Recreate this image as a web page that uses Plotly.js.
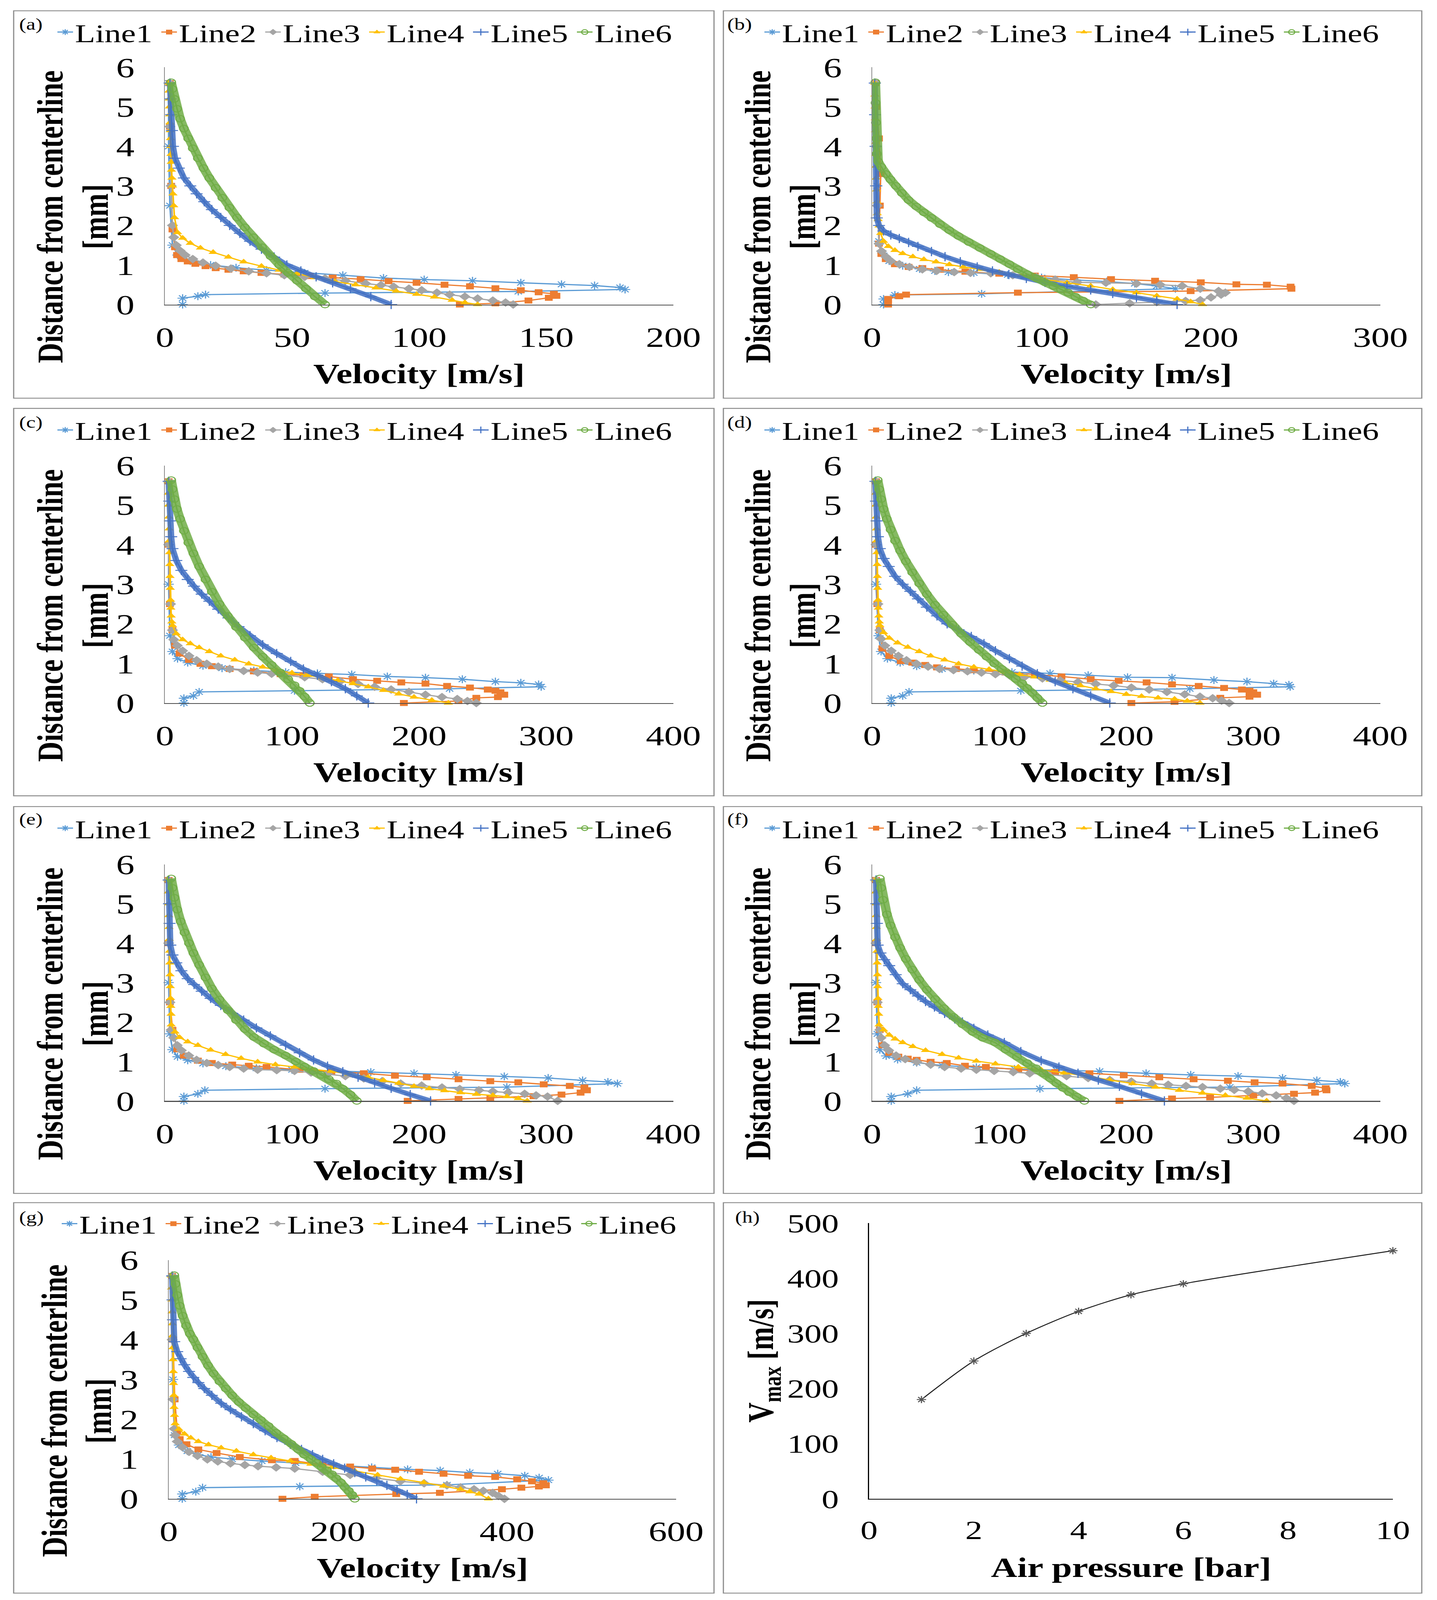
<!DOCTYPE html>
<html><head><meta charset="utf-8">
<script src="https://cdn.plot.ly/plotly-3.0.1.min.js"></script>
<style>html,body{margin:0;padding:0;background:#fff;overflow:hidden}#chart{width:3679px;height:5328px}</style>
</head><body><div id="chart"></div>
<script>
const seriesNames = ['Line1','Line2','Line3','Line4','Line5','Line6'];
const panelLabels = ['(a)','(b)','(c)','(d)','(e)','(f)','(g)','(h)'];

// (a)
const a_v1 = [7,7,13,16,63,139,181,179,169,156,140,121,102,86,70,55,40,28,18,10,5,3,2,1.5,1.5];
const a_d1 = [0,0.16,0.21,0.25,0.29,0.33,0.38,0.43,0.48,0.51,0.55,0.6,0.63,0.67,0.74,0.8,0.87,0.93,1.0,1.1,1.25,1.5,2.5,4,5.6];
const a_v2 = [116,130,143,151,154,153,147,140,130,120,110,99,88,77,66,57,47,38,31,25,20,16,12,9,6.5,4.8,4,3,2.5,2,2];
const a_d2 = [0,0.03,0.1,0.17,0.22,0.27,0.31,0.36,0.41,0.46,0.5,0.55,0.59,0.64,0.68,0.72,0.76,0.8,0.84,0.88,0.92,0.97,1.03,1.09,1.15,1.25,1.45,1.9,3,4.5,5.6];
const a_v3 = [137,134,129,123,118,112,107,101,96,90,85,79,71,63,55,47,40,33,26,20,15,11,8,6,4.5,3.5,3,2.5,2,2];
const a_d3 = [0,0.05,0.1,0.15,0.2,0.25,0.3,0.36,0.4,0.45,0.49,0.53,0.6,0.66,0.7,0.74,0.79,0.84,0.91,0.98,1.06,1.15,1.25,1.36,1.5,1.7,2.0,3,4.5,5.6];
const a_v4 = [1.5,1.6,1.7,1.8,1.9,2,2.1,2.2,2.3,2.4,2.5,2.6,2.8,3,3.2,3.5,3.8,5,7,10,14,19,25,31,38,45,52,59,67,75,83,91,99,106,113,118,123];
const a_d4 = [5.6,5.4,5.2,5.0,4.8,4.6,4.4,4.2,4.0,3.8,3.6,3.4,3.2,3.0,2.8,2.5,2.2,1.82,1.68,1.55,1.43,1.32,1.2,1.08,0.97,0.87,0.78,0.68,0.58,0.5,0.42,0.34,0.26,0.19,0.11,0.05,0];
const a_v5 = [2,2.2,2.5,2.8,3.2,4,5.5,7.5,10,12.5,15.5,18.5,22,25.5,29.5,33.5,38,43,48,53.5,59.5,66,73,81,89];
const a_d5 = [5.6,5.2,4.8,4.4,4.0,3.7,3.45,3.2,3.0,2.8,2.6,2.4,2.2,2.0,1.8,1.6,1.4,1.2,1.0,0.85,0.7,0.55,0.4,0.2,0];
const a_v6 = [2.5,3,3.8,4.8,6,7.5,9.2,11,13,15.2,17.5,20,22.6,25.4,28.4,31.5,34.8,38.2,41.6,45,48.5,52,55.5,59,63];
const a_d6 = [5.62,5.45,5.2,4.95,4.7,4.45,4.2,3.95,3.7,3.45,3.2,2.95,2.7,2.45,2.2,1.95,1.7,1.45,1.22,1.0,0.8,0.6,0.4,0.2,0];

// (b)
const b_v1 = [6.7,6.7,13.4,64.6,179,168,155,138.5,120,100,80,60,45,37,28,18,10,6,4,3,2];
const b_d1 = [0,0.14,0.24,0.27,0.4,0.47,0.53,0.58,0.62,0.68,0.75,0.8,0.82,0.85,0.9,0.98,1.1,1.3,1.6,3,5.6];
const b_v2 = [9.4,9.4,16,20,86,188,247.5,247,233,215,194,167,141,119,96,75,55,40,29.6,21.5,13.4,8,5.4,4,4.5,5,4,2.5,2];
const b_d2 = [0,0.14,0.21,0.25,0.3,0.34,0.4,0.45,0.5,0.51,0.56,0.6,0.64,0.69,0.73,0.78,0.83,0.88,0.92,0.95,1.02,1.15,1.28,1.54,2.5,3.3,4.2,5,5.6];
const b_v3 = [132,152,168,185,193.7,200,206,208.5,204.5,193.7,183,170,156,138,121,108,97,83,70,58,48.4,38,29.6,22,16,11,8,5.5,4,3,2.5,2];
const b_d3 = [0,0.03,0.06,0.09,0.11,0.18,0.25,0.3,0.34,0.4,0.47,0.5,0.53,0.55,0.56,0.63,0.69,0.74,0.79,0.8,0.82,0.85,0.89,0.95,1.02,1.1,1.21,1.35,1.54,2.5,4,5.6];
const b_v4 = [1.5,1.6,1.7,1.8,1.9,2,2.1,2.2,2.4,2.6,2.8,3,3.5,4,5,6.7,9.5,13.4,18,24,30.5,37.7,45.5,53.8,64,75,88,102,115,129,142,156,168,180,188,195];
const b_d4 = [5.6,5.3,5.0,4.7,4.4,4.1,3.8,3.5,3.2,2.9,2.6,2.3,2.15,1.99,1.8,1.6,1.47,1.37,1.29,1.21,1.14,1.08,1.01,0.95,0.89,0.82,0.72,0.63,0.55,0.47,0.38,0.3,0.22,0.14,0.07,0];
const b_v5 = [1.5,1.7,2,2.3,2.7,4,6.7,11,16,21.5,27,35,43,52,62,71,80.7,91,102,115,129,142,156,168,180];
const b_d5 = [5.6,4.8,4.0,3.0,2.19,2.0,1.86,1.76,1.67,1.57,1.47,1.34,1.21,1.08,0.95,0.85,0.76,0.66,0.56,0.46,0.37,0.28,0.18,0.09,0];
const b_v6 = [1.9,2,2.2,2.5,2.7,3.5,5.4,8,10.8,14,17.5,21.5,26,30.5,35,40,45.5,51,57,63.5,70,75.5,81,86,91.5,97,102,107,111.5,115.7,120,124.5,129];
const b_d6 = [5.62,5.1,4.6,4.2,3.81,3.62,3.48,3.3,3.16,3.0,2.82,2.64,2.48,2.33,2.19,2.03,1.88,1.73,1.58,1.43,1.28,1.15,1.02,0.89,0.77,0.66,0.56,0.47,0.38,0.3,0.2,0.1,0];

// (c)
const c_v1 = [15,15,22.5,27,102,224,296,294,280,260,234,205,175,147,120,95,70,45,30,18,10,6,4,3,3];
const c_d1 = [0,0.12,0.18,0.28,0.31,0.36,0.41,0.47,0.51,0.54,0.6,0.64,0.67,0.72,0.75,0.78,0.82,0.88,0.94,1.02,1.12,1.3,1.7,3,5.6];
const c_v2 = [188,231,245,262,267,264,260,254,240,222,205,186,167,148,129,109,91,70,51,37,28,19,11.6,8,6,4,3,3];
const c_d2 = [0,0.05,0.13,0.15,0.21,0.27,0.31,0.34,0.39,0.43,0.49,0.52,0.56,0.6,0.67,0.7,0.73,0.8,0.86,0.93,0.99,1.09,1.25,1.45,1.84,2.5,4,5.6];
const c_v3 = [245,238,230,218,205,192,178,165,152,138,124,110,95,84,73,62,51,42,33,25,19,14,9.8,7,6,4.5,3,3];
const c_d3 = [0,0.05,0.1,0.15,0.21,0.28,0.34,0.41,0.48,0.55,0.6,0.65,0.7,0.74,0.77,0.81,0.86,0.92,0.99,1.08,1.19,1.32,1.45,1.6,1.84,2.5,4,5.6];
const c_v4 = [2.5,2.7,2.9,3.1,3.3,3.5,3.7,3.9,4.1,4.3,4.5,4.7,5,5.5,6,9,14,20,27,35,44,55,66,77,88,100,112,124,136,148,160,172,184,196,210,223];
const c_d4 = [5.6,5.3,5.0,4.7,4.4,4.1,3.8,3.5,3.2,2.9,2.6,2.4,2.2,2.05,1.96,1.75,1.6,1.5,1.4,1.3,1.19,1.09,0.99,0.91,0.83,0.76,0.7,0.64,0.57,0.49,0.41,0.32,0.23,0.15,0.07,0];
const c_v5 = [3,3.5,4,5,6,9,13,18,23,29,35,42,50,58,67,77,88,99,109,120,131,142,151,160];
const c_d5 = [5.6,5.1,4.6,4.2,3.9,3.6,3.35,3.12,2.95,2.75,2.57,2.37,2.15,1.93,1.7,1.47,1.25,1.05,0.86,0.7,0.54,0.36,0.18,0];
const c_v6 = [5,6,7.5,9.5,12,15,18.5,22.5,27,32,37,43,49.5,56,63,70,77,84,91,97,102,106,110,114];
const c_d6 = [5.63,5.4,5.15,4.9,4.65,4.35,4.05,3.78,3.45,3.12,2.81,2.5,2.2,1.92,1.65,1.4,1.17,0.96,0.77,0.6,0.45,0.31,0.16,0];

// (d)
const d_v1 = [15,15,24,29,117,250,329,328,316,295,269,236,201,170,140,110,80,55,35,22,12,7,5,3,3];
const d_d1 = [0,0.12,0.18,0.28,0.31,0.36,0.41,0.46,0.49,0.54,0.58,0.64,0.65,0.7,0.75,0.78,0.82,0.86,0.93,1.02,1.12,1.3,1.7,3,5.6];
const d_v2 = [204,238,274,297,303,300,297,291,277,257,236,216,194,172,149,128,105,80,66,51,41.7,31.5,22.5,13.4,8,6,4,3,3];
const d_d2 = [0,0.03,0.13,0.16,0.21,0.27,0.31,0.34,0.38,0.43,0.47,0.52,0.56,0.6,0.67,0.72,0.77,0.83,0.86,0.9,0.96,1.02,1.06,1.19,1.38,1.84,2.5,4,5.6];
const d_v3 = [281,275,268,258,246,232,218,204,190,176,162,148,134,120,108,97,86,75,64,53,44,35,27,20.6,15,10,7,6,4.5,3,3];
const d_d3 = [0,0.06,0.12,0.16,0.22,0.28,0.34,0.39,0.44,0.48,0.53,0.57,0.62,0.66,0.7,0.73,0.77,0.8,0.83,0.86,0.92,0.99,1.08,1.19,1.32,1.45,1.62,1.84,2.5,4,5.6];
const d_v4 = [2.5,2.7,2.9,3.1,3.3,3.5,3.7,3.9,4.1,4.3,4.5,4.8,5.2,5.6,6,9,13.4,20,28,37,46,57,68,80,92,104,116,128,140,152,164,176,188,200,212,225,238,248,258];
const d_d4 = [5.6,5.3,5.0,4.7,4.4,4.1,3.8,3.5,3.2,2.9,2.6,2.4,2.2,2.05,1.96,1.78,1.64,1.52,1.41,1.3,1.19,1.09,0.99,0.91,0.85,0.79,0.72,0.66,0.58,0.51,0.44,0.36,0.29,0.22,0.17,0.13,0.1,0.05,0];
const d_v5 = [2.5,3,3.5,4.5,6,9,13,18,24,30,36,43,51,59,68,78,88,97,108,118,130,144,158,172,187];
const d_d5 = [5.6,5.1,4.6,4.2,3.9,3.65,3.45,3.2,3.0,2.82,2.63,2.42,2.2,2.0,1.85,1.68,1.5,1.32,1.12,0.93,0.74,0.54,0.36,0.18,0];
const d_v6 = [4.3,5.5,7,9,11.5,14.5,18,22,26.5,31.5,37,43,49.5,56,63,70,77,84,90,96,102,108,113,118,122,126,130,134];
const d_d6 = [5.63,5.4,5.15,4.9,4.65,4.38,4.1,3.85,3.58,3.3,3.02,2.75,2.48,2.23,1.98,1.75,1.54,1.34,1.17,1.0,0.86,0.73,0.61,0.5,0.38,0.26,0.13,0];

// (e)
const e_v1 = [15,15,26,31.5,126,269,356,348.5,328.6,301.5,267,229,196,162,130,100,72,48,30,18,10,6,4,3,3];
const e_d1 = [0,0.11,0.18,0.27,0.31,0.35,0.44,0.48,0.52,0.58,0.62,0.66,0.7,0.73,0.76,0.79,0.83,0.88,0.95,1.03,1.12,1.3,1.7,3,5.6];
const e_v2 = [191,231,256,290,312,327,332,330,318.5,298,278,256,231,206,181,156.5,131,106,80,66,53,37,26,15,9.8,6,4,3,3];
const e_d2 = [0,0.05,0.08,0.12,0.16,0.21,0.27,0.34,0.38,0.42,0.47,0.5,0.55,0.6,0.64,0.7,0.74,0.79,0.86,0.89,0.92,0.96,1.02,1.15,1.31,1.8,2.5,4,5.6];
const e_v3 = [309,301,292,283,270,258,247,232,218,202,185.5,171,156.5,142,128,115,102,88,73,62,51,42,33,25,18.8,13,9.8,7,5,4,3,3];
const e_d3 = [0,0.11,0.14,0.18,0.21,0.24,0.27,0.3,0.34,0.39,0.44,0.5,0.57,0.63,0.68,0.72,0.76,0.78,0.79,0.82,0.86,0.91,0.96,1.04,1.15,1.28,1.41,1.6,1.8,2.5,4,5.6];
const e_v4 = [2.5,2.7,2.9,3.1,3.3,3.5,3.7,3.9,4.1,4.3,4.5,4.7,4.9,5,8,11.6,18,26,36,47.8,60,73,87,102,116,131,145,160,172,184,196,208,220,232.6,245,258,269,278,285];
const e_d4 = [5.6,5.3,5.0,4.7,4.4,4.1,3.8,3.5,3.2,2.9,2.6,2.4,2.2,1.93,1.75,1.61,1.5,1.41,1.29,1.18,1.08,0.99,0.92,0.86,0.8,0.75,0.68,0.6,0.52,0.45,0.37,0.31,0.26,0.21,0.17,0.14,0.11,0.06,0];
const e_v5 = [3,3.3,3.7,4.3,6,9,13,18,23,29,36,44,53,62,72,83,95,106,117,128,140,152,165,178,193,209];
const e_d5 = [5.6,5.0,4.5,3.95,3.7,3.5,3.3,3.1,2.95,2.78,2.6,2.42,2.22,2.05,1.85,1.65,1.41,1.22,1.04,0.88,0.74,0.6,0.46,0.32,0.16,0];
const e_v6 = [5,6,7.5,9.8,12.5,15.5,19,22.5,27,32,37,43,49.5,56,63,70,78,86,95,103,110,117,123,129,135,140,146,151];
const e_d6 = [5.64,5.4,5.15,4.85,4.55,4.27,4.0,3.75,3.45,3.13,2.85,2.57,2.3,2.05,1.82,1.62,1.45,1.3,1.15,1.0,0.87,0.76,0.66,0.55,0.44,0.31,0.16,0];

// (f)
const f_v1 = [15,15,28,35,132,281.5,372,368.5,350,323,288,250.7,215.6,179,145,112,82,55,35,20,11,6,4,3,3];
const f_d1 = [0,0.11,0.18,0.27,0.31,0.35,0.44,0.48,0.52,0.58,0.63,0.66,0.7,0.75,0.78,0.81,0.85,0.9,0.97,1.05,1.14,1.3,1.7,3,5.6];
const f_v2 = [194.6,236,266,300,332,348.6,357.6,357,346,323,301,280,253,226,198,171,144,115,89.5,73,58.7,46,35,28,20.6,13.4,8,6,4,3,3];
const f_d2 = [0,0.06,0.09,0.14,0.18,0.21,0.27,0.32,0.38,0.44,0.47,0.51,0.55,0.6,0.65,0.7,0.73,0.79,0.86,0.89,0.96,0.99,1.04,1.07,1.12,1.22,1.41,1.8,2.5,4,5.6];
const f_v3 = [332,326,318,307,296,285,274,260,247,233,220,204,187,170,153,138,124,111,96,82,70,57,46,35,26,18.8,13,9.8,7,6,4,3,3];
const f_d3 = [0,0.07,0.14,0.19,0.24,0.28,0.31,0.35,0.38,0.41,0.44,0.49,0.53,0.58,0.63,0.67,0.7,0.73,0.76,0.79,0.82,0.86,0.92,0.99,1.06,1.15,1.28,1.41,1.6,1.8,2.5,4,5.6];
const f_v4 = [2.5,2.7,2.9,3.1,3.3,3.5,3.7,3.9,4.1,4.3,4.5,4.8,5.1,5.4,9,13.4,18,24,32,42,55,68,82,97,115,133,151,169,187,205,223,241.7,260,278,295,310.5];
const f_d4 = [5.6,5.3,5.0,4.7,4.4,4.1,3.8,3.5,3.2,2.9,2.6,2.4,2.2,1.93,1.8,1.67,1.57,1.48,1.38,1.28,1.18,1.09,1.01,0.94,0.86,0.79,0.71,0.63,0.53,0.44,0.35,0.27,0.2,0.14,0.07,0];
const f_v5 = [3,3.3,3.7,4.3,6.5,9.5,13.4,18.5,24,30,36,42,49,57,65,71,80,91,104,117,133,147,162,178,194.6,212,230];
const f_d5 = [5.6,5.0,4.5,3.95,3.75,3.58,3.43,3.2,2.97,2.82,2.66,2.52,2.38,2.22,2.08,2.0,1.84,1.67,1.48,1.25,1.02,0.86,0.7,0.53,0.37,0.18,0];
const f_v6 = [6,7,8.5,11.6,14.5,18,22,26.5,31.5,37,43,49.5,56.5,64,71,79,87,96.7,105,114,122,129,135,140,145,150,155,161,167];
const f_d6 = [5.64,5.4,5.1,4.73,4.45,4.15,3.88,3.6,3.33,3.07,2.82,2.58,2.35,2.13,1.94,1.75,1.6,1.48,1.3,1.12,0.96,0.83,0.7,0.57,0.45,0.33,0.22,0.11,0];

// (g)
const g_v1 = [16,16,32,40,155,329,449,438,421,389,356,321,282.5,240,195,150,110,75,50,35,22,12,7,5,4];
const g_d1 = [0,0.12,0.18,0.28,0.31,0.35,0.47,0.53,0.58,0.63,0.66,0.71,0.74,0.79,0.84,0.9,0.95,1.0,1.05,1.11,1.2,1.35,1.6,3,5.6];
const g_v2 = [134.5,172.6,269,320.6,394,417,437.7,446,443,429.5,412,386,354,325,296,267.8,240.6,214.5,182,149,122,84,56.6,35,21,13,10,7,5,4];
const g_d2 = [0,0.05,0.12,0.15,0.24,0.28,0.31,0.34,0.39,0.44,0.49,0.55,0.58,0.63,0.68,0.73,0.76,0.81,0.86,0.95,0.97,1.05,1.15,1.24,1.37,1.5,1.69,2.5,4,5.6];
const g_v3 = [397,390,383,372,361,345,329,302,274,245,214.5,182,149,127,105.6,90,73,58,45.7,34,24,16,10,7.5,6.5,5,4,4];
const g_d3 = [0,0.07,0.15,0.2,0.24,0.29,0.34,0.39,0.44,0.52,0.6,0.68,0.76,0.79,0.82,0.85,0.89,0.94,0.99,1.08,1.18,1.3,1.44,1.6,1.76,2.5,4,5.6];
const g_v4 = [3,3.3,3.6,3.9,4.2,4.5,4.8,5.1,5.4,5.7,6,6.3,6.8,7.6,12,18.5,26,35,47,62,80,100,121,143.7,168,192.7,220,247,274,301.6,325,345,356,367,378];
const g_d4 = [5.6,5.3,5.0,4.7,4.4,4.1,3.8,3.5,3.2,2.9,2.6,2.3,2.1,1.89,1.75,1.63,1.53,1.44,1.36,1.28,1.2,1.11,1.03,0.95,0.87,0.79,0.7,0.6,0.5,0.41,0.32,0.24,0.18,0.12,0];
const g_v5 = [4,4.5,5,6.5,10,14,18.5,24,29,35,42,51,62,73,86,100,114,128,143.7,157,170,182,195,208,220,233,246,258,270,282,293];
const g_d5 = [5.6,5.0,4.5,3.95,3.7,3.52,3.37,3.2,3.05,2.92,2.77,2.6,2.4,2.24,2.06,1.89,1.71,1.54,1.37,1.24,1.11,0.99,0.88,0.77,0.66,0.55,0.45,0.34,0.22,0.11,0];
const g_v6 = [6.5,8,10,13,16.5,20.5,25,29,34,40,46.5,53,60,67.5,75,83,91,100,109,118,127,136,145,153,160,168,175,181,187,193,198,203.6,208,213,217,220];
const g_d6 = [5.62,5.4,5.12,4.85,4.6,4.35,4.15,4.01,3.8,3.57,3.35,3.15,2.95,2.77,2.6,2.43,2.28,2.12,1.98,1.83,1.66,1.52,1.38,1.24,1.11,1.0,0.9,0.8,0.72,0.62,0.52,0.41,0.3,0.2,0.1,0];

// (h)
const h_pressure = [1,2,3,4,5,6,10];
const h_vmax = [180,250,300,340,370,390,450];

const xMax = [200,300,400,400,400,400,600];
const xTickStep = [50,100,100,100,100,100,200];

// ---------- LAYOUT ----------
const W = 3679, H = 5328;
const fx = p => p / W;
const fy = p => 1 - p / H;
const SERIF = 'Liberation Serif, Times New Roman, serif';

const vels = [[a_v1,a_v2,a_v3,a_v4,a_v5,a_v6],[b_v1,b_v2,b_v3,b_v4,b_v5,b_v6],[c_v1,c_v2,c_v3,c_v4,c_v5,c_v6],
              [d_v1,d_v2,d_v3,d_v4,d_v5,d_v6],[e_v1,e_v2,e_v3,e_v4,e_v5,e_v6],[f_v1,f_v2,f_v3,f_v4,f_v5,f_v6],
              [g_v1,g_v2,g_v3,g_v4,g_v5,g_v6]];
const dists = [[a_d1,a_d2,a_d3,a_d4,a_d5,a_d6],[b_d1,b_d2,b_d3,b_d4,b_d5,b_d6],[c_d1,c_d2,c_d3,c_d4,c_d5,c_d6],
               [d_d1,d_d2,d_d3,d_d4,d_d5,d_d6],[e_d1,e_d2,e_d3,e_d4,e_d5,e_d6],[f_d1,f_d2,f_d3,f_d4,f_d5,f_d6],
               [g_d1,g_d2,g_d3,g_d4,g_d5,g_d6]];

const styles = [
  {color:'#5B9BD5', symbol:'asterisk-open', size:22, open:true},
  {color:'#ED7D31', symbol:'square', size:20},
  {color:'#A5A5A5', symbol:'diamond', size:22},
  {color:'#FFC000', symbol:'triangle-up', size:21},
  {color:'#4472C4', symbol:'cross-thin-open', size:22, open:true, band:16},
  {color:'#70AD47', symbol:'circle-open', size:22, open:true, band:24}
];

const rows = [
  {yT:224, yB:1014, by0:36, by1:1326, legY:107, lblY:81, tY:722},
  {yT:1550, yB:2341, by0:1360, by1:2650, legY:1432, lblY:1407, tY:2050},
  {yT:2878, yB:3666, by0:2686, by1:3974, legY:2758, lblY:2728, tY:3376},
  {yT:4196, yB:4991, by0:4005, by1:5305, legY:4075, lblY:4054, tY:4698}
];
const cols = [
  {xL:422, xR:1724, bx0:35, bx1:1828, legX:142, lblX:47, t1X:128, t2X:244},
  {xL:2233, xR:3534, bx0:1852, bx1:3640, legX:1952, lblX:1860, t1X:1940, t2X:2055}
];

const traces = [];
const layout = {
  width: W, height: H, margin:{l:0,r:0,t:0,b:0},
  paper_bgcolor:'#fff', plot_bgcolor:'rgba(0,0,0,0)',
  showlegend:true, shapes:[], annotations:[]
};

function geom(i){
  const r = rows[Math.floor(i/2)], c = cols[i%2];
  const g = Object.assign({}, r, c);
  if (i === 6) { g.xL = 432; g.xR = 1731; g.legX = 153; g.t1X = 139; g.t2X = 252; }
  if (i === 7) { g.xL = 2225; g.xR = 3566; g.yT = 4073; g.lblX = 1880; }
  return g;
}

for (let i = 0; i < 8; i++) {
  const g = geom(i);
  const sfx = i === 0 ? '' : String(i+1);
  const xa = 'x' + sfx, ya = 'y' + sfx;
  const tickFont = {family:SERIF, size: i === 7 ? 88 : 94, color:'#000'};
  layout['xaxis'+sfx] = {
    domain:[fx(g.xL), fx(g.xR)], anchor:ya, range:[0, i===7 ? 10 : xMax[i]],
    dtick: i===7 ? 2 : xTickStep[i], tick0:0, showgrid:false, zeroline:false,
    showline:true, linecolor: i===7 ? '#000' : '#4d4d4d', linewidth: 3, ticks:'',
    tickfont:tickFont, ticklabelstandoff: 25, fixedrange:true
  };
  layout['yaxis'+sfx] = {
    domain:[fy(g.yB), fy(g.yT)], anchor:xa, range: i===7 ? [0,500] : [0,6],
    dtick: i===7 ? 100 : 1, tick0:0, showgrid:false, zeroline:false,
    showline:true, linecolor: i===7 ? '#000' : '#8a8a8a', linewidth: i===7 ? 3 : 2, ticks:'',
    tickfont:tickFont, ticklabelstandoff: 57, fixedrange:true
  };
  layout.shapes.push({type:'rect', xref:'paper', yref:'paper', x0:fx(g.bx0), x1:fx(g.bx1), y0:fy(g.by1), y1:fy(g.by0),
    line:{color:'#8c8c8c', width:3}, fillcolor:'rgba(0,0,0,0)', layer:'below'});
  layout.annotations.push({xref:'paper', yref:'paper', x:fx(g.lblX), y:fy(g.lblY), xanchor:'left', yanchor:'middle',
    text:panelLabels[i], showarrow:false, font:{family:SERIF, size:54, color:'#000'}});

  if (i < 7) {
    const legName = i === 0 ? 'legend' : 'legend' + (i+1);
    layout[legName] = {
      x:fx(g.legX), y:fy(g.legY), xanchor:'left', yanchor:'middle', orientation:'h',
      font:{family:SERIF, size:85, color:'#000'}, bgcolor:'rgba(0,0,0,0)', borderwidth:0,
      itemwidth:40, entrywidth:211, entrywidthmode:'pixels', tracegroupgap:0, itemclick:false, itemdoubleclick:false
    };
    for (let s = 0; s < 6; s++) {
      const st = styles[s];
      if (st.band) {
        traces.push({type:'scatter', mode:'lines', x:vels[i][s], y:dists[i][s], xaxis:xa, yaxis:ya,
          line:{color:st.color, width:st.band}, opacity:0.85, showlegend:false, legend:legName, cliponaxis:false, hoverinfo:'skip'});
      }
      traces.push({
        type:'scatter', mode:'lines+markers', name:seriesNames[s], x:vels[i][s], y:dists[i][s],
        xaxis:xa, yaxis:ya, legend:legName, cliponaxis:false,
        line:{color:st.color, width:4},
        marker:{symbol:st.symbol, size:st.size, color:st.color,
          line: st.open ? {color: s===5 ? '#4e8a31' : st.color, width:3} : {width:0}}
      });
    }
    layout.annotations.push({xref:'paper', yref:'paper', x:fx((g.xL+g.xR)/2), y:fy(g.yB+230), xanchor:'center', yanchor:'middle',
      text:'<b>Velocity [m/s]</b>', showarrow:false, font:{family:SERIF, size:93, color:'#000'}});
    layout.annotations.push({xref:'paper', yref:'paper', x:fx(g.t1X), y:fy(g.tY), xanchor:'center', yanchor:'middle', textangle:-90,
      text:'<b>Distance from centerline</b>', showarrow:false, font:{family:SERIF, size:93, color:'#000'}});
    layout.annotations.push({xref:'paper', yref:'paper', x:fx(g.t2X), y:fy(g.tY), xanchor:'center', yanchor:'middle', textangle:-90,
      text:'<b>[mm]</b>', showarrow:false, font:{family:SERIF, size:93, color:'#000'}});
  } else {
    traces.push({type:'scatter', mode:'lines+markers', name:'Vmax', x:h_pressure, y:h_vmax, xaxis:xa, yaxis:ya,
      showlegend:false, cliponaxis:false,
      line:{color:'#1a1a1a', width:3, shape:'spline', smoothing:0.8},
      marker:{symbol:'asterisk-open', size:20, color:'#555', line:{color:'#555', width:3}}});
    layout.annotations.push({xref:'paper', yref:'paper', x:fx((g.xL+g.xR)/2), y:fy(g.yB+228), xanchor:'center', yanchor:'middle',
      text:'<b>Air pressure [bar]</b>', showarrow:false, font:{family:SERIF, size:93, color:'#000'}});
    layout.annotations.push({xref:'paper', yref:'paper', x:fx(1954), y:fy((g.yT+g.yB)/2), xanchor:'center', yanchor:'middle', textangle:-90,
      text:'<b>V<sub>max</sub> [m/s]</b>', showarrow:false, font:{family:SERIF, size:93, color:'#000'}});
  }
}

// The figure is drawn at its full 3679x5328 size; if the actual browser viewport is
// smaller than that, scale the drawing so the whole figure is visible in the photo.
const chartEl = document.getElementById('chart');
const vw = window.innerWidth || W, vh = window.innerHeight || H;
const sx = Math.min(1, vw / W), sy = Math.min(1, vh / H);
if (sx < 0.999 || sy < 0.999) {
  chartEl.style.transformOrigin = '0 0';
  chartEl.style.transform = 'scale(' + sx + ',' + sy + ')';
}

Plotly.newPlot('chart', traces, layout, {staticPlot:true, displayModeBar:false});
</script>
</body></html>
